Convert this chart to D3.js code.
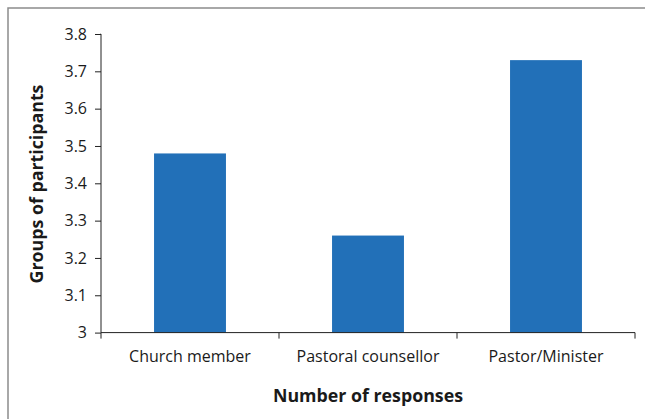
<!DOCTYPE html>
<html><head><meta charset="utf-8">
<script src="https://cdn.jsdelivr.net/npm/d3@7"></script>
<style>
body{margin:0;background:#fff;}
svg{display:block;}
text{font-family:"Open Sans",sans-serif;fill:#1a1a1a;}
</style></head>
<body><svg id="c" width="645" height="419"></svg>
<script>
const categories = ["Church member", "Pastoral counsellor", "Pastor/Minister"];
const values = [3.48, 3.26, 3.73];
const yTicks = [3, 3.1, 3.2, 3.3, 3.4, 3.5, 3.6, 3.7, 3.8];
const yTickLabels = ["3", "3.1", "3.2", "3.3", "3.4", "3.5", "3.6", "3.7", "3.8"];

(function(){
const svg = d3.select("#c");
svg.append("path").attr("d","M8,419V8H645").attr("fill","none").attr("stroke","#8c8c8c").attr("stroke-width",1.5);

const pL=101, pR=635, pT=34, pB=332.6;
const x = d3.scaleBand().domain(categories).range([pL,pR]).paddingInner(0.596).paddingOuter(0.298);
const y = d3.scaleLinear().domain([3,3.8]).range([pB,pT]);

svg.selectAll("rect.bar").data(values).enter().append("rect")
  .attr("x",(d,i)=>x(categories[i])).attr("width",x.bandwidth())
  .attr("y",d=>y(d)).attr("height",d=>y(3)-y(d)).attr("fill","#2270b8");

const yAxis = d3.axisLeft(y).tickValues(yTicks).tickFormat((d,i)=>yTickLabels[i]).tickSize(6).tickPadding(8);
const gy = svg.append("g").attr("transform",`translate(${pL},0)`).call(yAxis);
gy.select(".domain").attr("stroke","#222").attr("d",`M-0.5,${pT}H0V${pB}`);
gy.selectAll(".tick line").attr("stroke","#222");
gy.selectAll(".tick text").style("font-size","16px").attr("fill","#1a1a1a").style("font-family","Open Sans");

const gx = svg.append("g").attr("transform",`translate(0,${pB})`);
gx.append("line").attr("x1",pL).attr("x2",pR).attr("stroke","#222");
const bounds = [pL].concat(categories.map(c=>x(c)+x.bandwidth()+x.step()*x.paddingInner()/2));
bounds[bounds.length-1]=pR;
gx.selectAll("line.t").data(bounds).enter().append("line")
  .attr("x1",d=>d).attr("x2",d=>d).attr("y1",0).attr("y2",6).attr("stroke","#222");
gx.selectAll("text.l").data(categories).enter().append("text")
  .attr("x",d=>x(d)+x.bandwidth()/2).attr("y",29.5).attr("text-anchor","middle")
  .style("font-size","16px").text(d=>d);

svg.append("text").attr("x",(pL+pR)/2).attr("y",402).attr("text-anchor","middle")
  .style("font-size","17.8px").style("font-weight","bold").text("Number of responses");
svg.append("text").attr("transform","translate(43,184) rotate(-90)").attr("text-anchor","middle")
  .style("font-size","17.8px").style("font-weight","bold").text("Groups of participants");
})();
</script></body></html>
